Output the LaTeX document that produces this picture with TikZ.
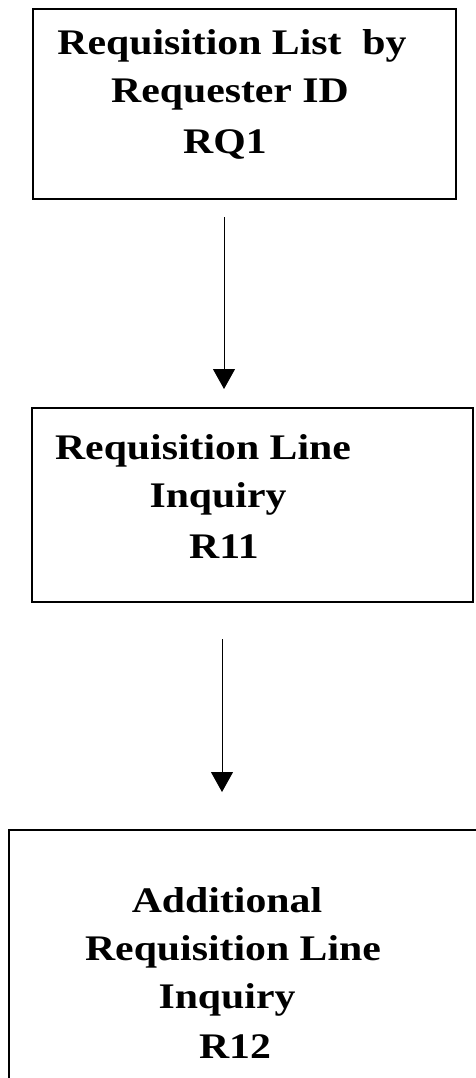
\documentclass[tikz,border=0pt]{standalone}
\usepackage{fontspec}
\newfontfamily\lblfont{Liberation Serif}[FakeStretch=1.16]
\usetikzlibrary{arrows.meta}

\begin{document}
\begin{tikzpicture}[x=1pt,y=-1pt,
  box/.style={draw, line width=1.2pt, rectangle, inner sep=0pt},
  lbl/.style={anchor=base, inner sep=0pt, font=\lblfont\bfseries\fontsize{36}{44}\selectfont},
  flow/.style={line width=1pt, -{Triangle[width=22pt,length=20pt]}}]
\useasboundingbox (0,0) rectangle (476,1078);

% boxes
\node[box, minimum width=423pt, minimum height=190pt] (b1) at (244.5,104) {};
\node[box, minimum width=441pt, minimum height=194pt] (b2) at (252.5,505) {};
\node[box, minimum width=470pt, minimum height=250pt] (b3) at (244,955) {};

% labels
\node[lbl] (t1a) at (232,55)  {Requisition List\ \ by};
\node[lbl] (t1b) at (230,103) {Requester ID};
\node[lbl] (t1c) at (225,154) {RQ1};

\node[lbl] (t2a) at (203,459) {Requisition Line};
\node[lbl] (t2b) at (218,507) {Inquiry};
\node[lbl] (t2c) at (224,558) {R11};

\node[lbl] (t3a) at (227,912)  {Additional};
\node[lbl] (t3b) at (233,960)  {Requisition Line};
\node[lbl] (t3c) at (227,1008) {Inquiry};
\node[lbl] (t3d) at (235,1058) {R12};

% connectors
\coordinate (a1s) at (224,217);
\coordinate (a1e) at (224,389);
\coordinate (a2s) at (222,639);
\coordinate (a2e) at (222,792);
\draw[flow] (a1s) -- (a1e);
\draw[flow] (a2s) -- (a2e);
\end{tikzpicture}
\end{document}
